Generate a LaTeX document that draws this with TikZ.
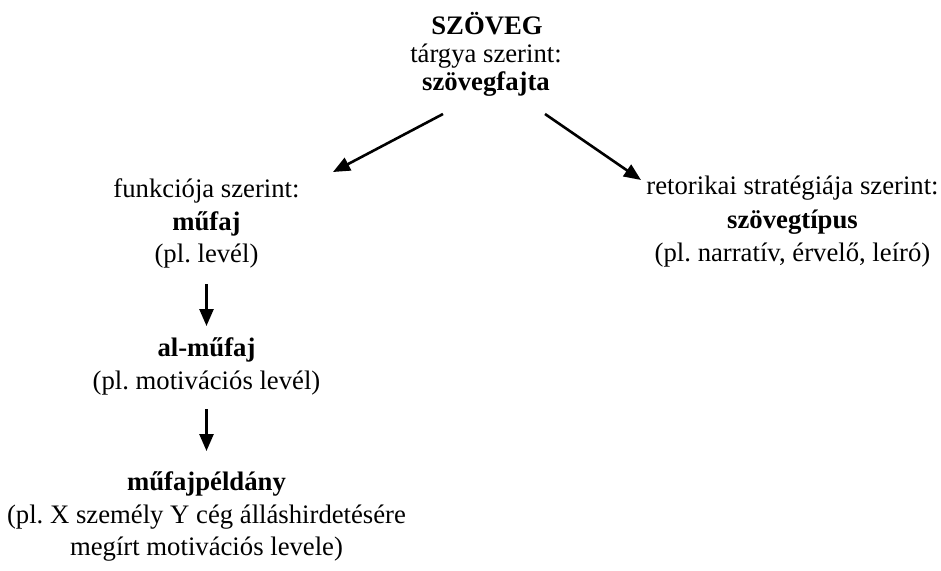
\documentclass[tikz,border=0pt]{standalone}
\usepackage{fontspec}
\setmainfont{Liberation Serif}
\usetikzlibrary{arrows.meta}
\frenchspacing
\begin{document}
\begin{tikzpicture}[x=1pt,y=-1pt,
  txt/.style={anchor=base,inner sep=0pt,font=\fontsize{26.7}{30}\selectfont},
  bold/.style={anchor=base,inner sep=0pt,font=\fontsize{26.7}{30}\selectfont\bfseries},
  arr/.style={line width=2.6pt,-{Triangle[length=17pt,width=14pt]}}]
\useasboundingbox (0,0) rectangle (941,570);

% top block
\node[bold] (szoveg) at (487,34) {SZÖVEG};
\node[txt]  (targya) at (486,62) {tárgya szerint:};
\node[bold] (fajta)  at (486,90) {szövegfajta};

% left column
\node[txt]  (funkc)  at (206.5,197) {funkciója szerint:};
\node[bold] (mufaj)  at (206.5,230) {műfaj};
\node[txt]  (pllev)  at (206.5,262) {(pl. levél)};
\node[bold] (almuf)  at (206.5,356) {al-műfaj};
\node[txt]  (plmot)  at (206.5,389) {(pl. motivációs levél)};
\node[bold] (peld)   at (206.5,490) {műfajpéldány};
\node[txt]  (plx1)   at (206.5,523) {(pl. X személy Y cég álláshirdetésére};
\node[txt]  (plx2)   at (206.5,555) {megírt motivációs levele)};

% right column
\node[txt]  (retor)  at (792.5,194) {retorikai stratégiája szerint:};
\node[bold] (tipus)  at (792.5,228) {szövegtípus};
\node[txt]  (plnarr) at (792.5,261) {(pl. narratív, érvelő, leíró)};

% connector ends
\coordinate (a1s) at (443,114);
\coordinate (a1e) at (333,172);
\coordinate (a2s) at (545,114);
\coordinate (a2e) at (641,180);
\coordinate (d1s) at (206.5,284);
\coordinate (d1e) at (206.5,326);
\coordinate (d2s) at (206.5,409);
\coordinate (d2e) at (206.5,451);

\draw[arr] (a1s) -- (a1e);
\draw[arr] (a2s) -- (a2e);
\draw[arr] (d1s) -- (d1e);
\draw[arr] (d2s) -- (d2e);
\end{tikzpicture}
\end{document}
